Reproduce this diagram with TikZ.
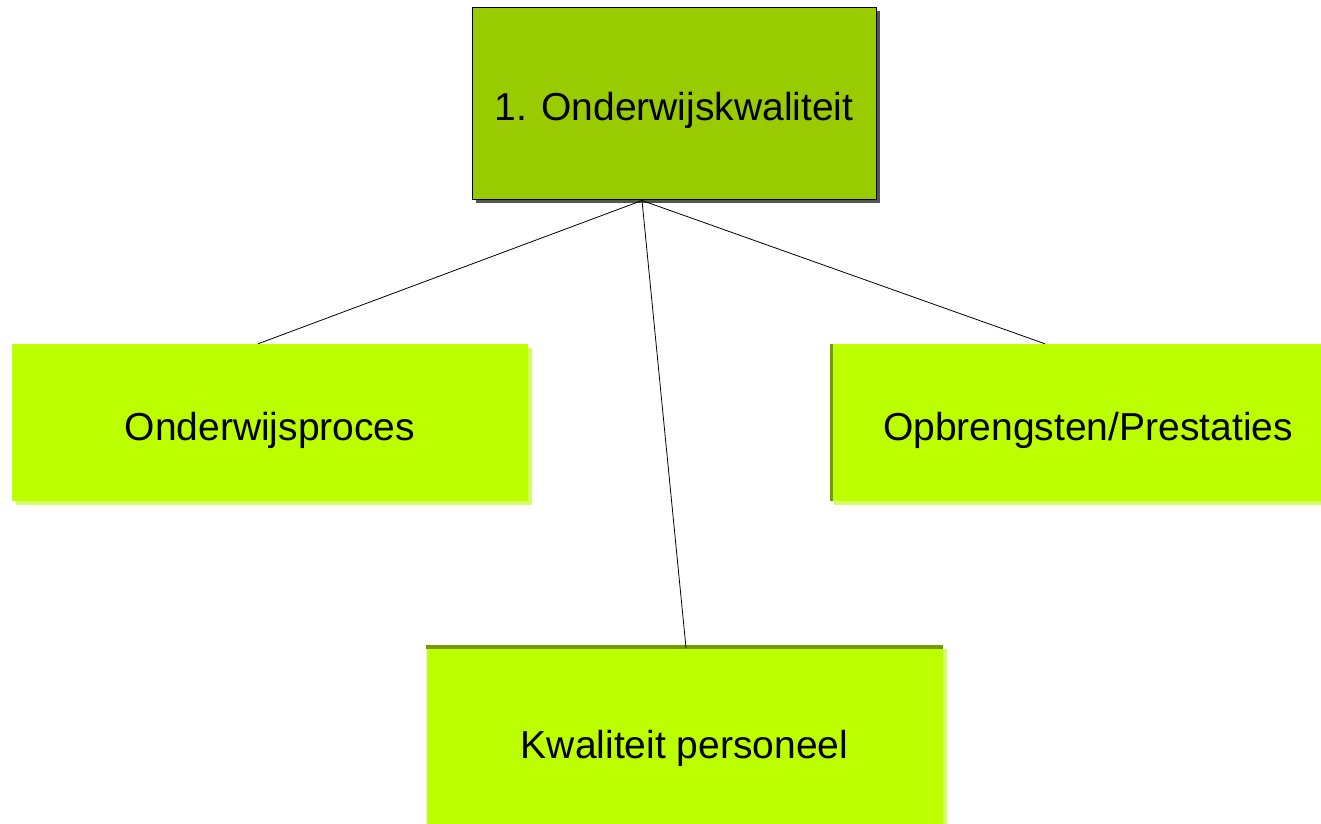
\documentclass[tikz,border=0pt]{standalone}
\usepackage{fontspec}
\setmainfont{Liberation Sans}
\usetikzlibrary{calc,shadows}
\definecolor{rootgreen}{HTML}{99CC00}
\definecolor{leafgreen}{HTML}{BBFF00}
\definecolor{leafshade}{HTML}{D6FF66}
\definecolor{edgegreen}{HTML}{779900}
\definecolor{rootshade}{HTML}{555555}
\begin{document}
\begin{tikzpicture}[x=1pt,y=-1pt,
  every node/.style={font=\fontsize{39}{47}\selectfont, inner sep=0pt, text=black,
    text height=35pt, text depth=0pt},
  rootbox/.style={rectangle, fill=rootgreen, draw=black, line width=1pt,
    minimum width=404pt, minimum height=192pt,
    general shadow={fill=rootshade, shadow xshift=4pt, shadow yshift=-4pt}},
  leafbox/.style={rectangle, fill=leafgreen,
    minimum width=516pt, minimum height=157pt,
    general shadow={fill=leafshade, shadow xshift=4pt, shadow yshift=-4pt}},
  link/.style={draw=black, line width=0.8pt}]
\clip (0,0) rectangle (1321,823);
\fill[white] (0,0) rectangle (1321,823);

% boxes
\node[rootbox] (root) at (674,103) {1. Onderwijskwaliteit};
\node[leafbox] (proc) at (270,422.5) {Onderwijsproces};
\node[leafbox] (opbr) at (1088,422.5) {Opbrengsten/Prestaties};
\node[leafbox, minimum height=192pt] (pers) at (684.5,741) {Kwaliteit personeel};

% darker accent edges
\draw[edgegreen, line width=3.5pt] ($(opbr.north west)+(1.75,0)$) -- ($(opbr.south west)+(1.75,0)$);
\draw[edgegreen, line width=4pt] ($(pers.north west)+(0,2)$) -- ($(pers.north east)+(0,2)$);

% connectors
\coordinate (hub) at ($(root.south)+(-32,1)$);
\coordinate (procIn) at ($(proc.north)+(-12,0)$);
\coordinate (opbrIn) at ($(opbr.north)+(-43,0)$);
\coordinate (persIn) at ($(pers.north)+(1.5,3)$);
\draw[link] (hub) -- (procIn);
\draw[link] (hub) -- (opbrIn);
\draw[link] (hub) -- (persIn);
\end{tikzpicture}
\end{document}
